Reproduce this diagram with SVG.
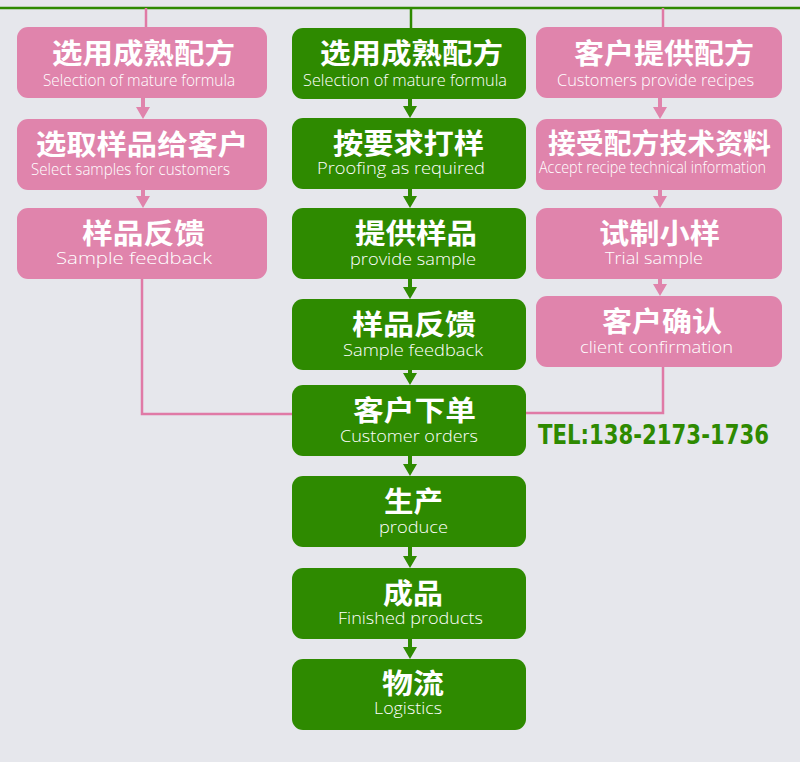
<svg xmlns="http://www.w3.org/2000/svg" xmlns:xlink="http://www.w3.org/1999/xlink" width="800" height="762" viewBox="0 0 800 762">
<style>
.pk{fill:#e084ac}
.gr{fill:#2e8a00}
.lp{stroke:#e07aa6;stroke-width:2.5;fill:none}
.lg{stroke:#2e8a00;stroke-width:2.5;fill:none}
.zh{font-family:"Noto Sans CJK SC","Noto Sans",sans-serif;font-weight:700;font-size:28px;fill:#fff}
.en{font-family:"Open Sans","Noto Sans",sans-serif;font-weight:300;font-size:17px;fill:#fff}
.tel{font-family:"DejaVu Sans",Verdana,sans-serif;font-weight:700;font-size:26px;fill:#2e8a00}
</style>
<defs>
<path id="arr" d="M-2,-24 H2 V-12 H7 L0,0 L-7,-12 H-2 Z"/>
</defs>
<rect width="800" height="762" fill="#e6e7ec"/>
<g id="connectors">
<line class="lg" x1="0" y1="8" x2="800" y2="8"/>
<line class="lp" x1="146" y1="8" x2="146" y2="30"/>
<line class="lg" x1="411" y1="8" x2="411" y2="30"/>
<line class="lp" x1="663" y1="8" x2="663" y2="30"/>
<polyline class="lp" points="142,270 142,414 294,414"/>
<polyline class="lp" points="663,360 663,413 524,413"/>
<use xlink:href="#arr" href="#arr" class="pk" x="143" y="119"/>
<use xlink:href="#arr" href="#arr" class="pk" x="143" y="208"/>
<use xlink:href="#arr" href="#arr" class="gr" x="410" y="118"/>
<use xlink:href="#arr" href="#arr" class="gr" x="410" y="208"/>
<use xlink:href="#arr" href="#arr" class="gr" x="410" y="299"/>
<use xlink:href="#arr" href="#arr" class="gr" x="410" y="385"/>
<use xlink:href="#arr" href="#arr" class="gr" x="410" y="476"/>
<use xlink:href="#arr" href="#arr" class="gr" x="410" y="568"/>
<use xlink:href="#arr" href="#arr" class="gr" x="410" y="659"/>
<use xlink:href="#arr" href="#arr" class="pk" x="660" y="119"/>
<use xlink:href="#arr" href="#arr" class="pk" x="660" y="208"/>
<use xlink:href="#arr" href="#arr" class="pk" x="660" y="296"/>
</g>
<g id="L1"><rect class="pk" x="17" y="27" width="250" height="71" rx="11"/><text class="zh" x="52" y="64" textLength="183" lengthAdjust="spacingAndGlyphs">选用成熟配方</text><text class="en" x="43" y="86" textLength="192" lengthAdjust="spacingAndGlyphs">Selection of mature formula</text></g>
<g id="L2"><rect class="pk" x="17" y="119" width="250" height="71" rx="11"/><text class="zh" x="36" y="155" textLength="212" lengthAdjust="spacingAndGlyphs">选取样品给客户</text><text class="en" x="31" y="175" textLength="199" lengthAdjust="spacingAndGlyphs">Select samples for customers</text></g>
<g id="L3"><rect class="pk" x="17" y="208" width="250" height="71" rx="11"/><text class="zh" x="82" y="244" textLength="123" lengthAdjust="spacingAndGlyphs">样品反馈</text><text class="en" x="56" y="264" textLength="156" lengthAdjust="spacingAndGlyphs">Sample feedback</text></g>
<g id="M1"><rect class="gr" x="292" y="28" width="234" height="71" rx="11"/><text class="zh" x="320" y="64" textLength="183" lengthAdjust="spacingAndGlyphs">选用成熟配方</text><text class="en" x="303" y="86" textLength="204" lengthAdjust="spacingAndGlyphs">Selection of mature formula</text></g>
<g id="M2"><rect class="gr" x="292" y="118" width="234" height="71" rx="11"/><text class="zh" x="333" y="154" textLength="151" lengthAdjust="spacingAndGlyphs">按要求打样</text><text class="en" x="317" y="174" textLength="168" lengthAdjust="spacingAndGlyphs">Proofing as required</text></g>
<g id="M3"><rect class="gr" x="292" y="208" width="234" height="71" rx="11"/><text class="zh" x="355" y="244" textLength="122" lengthAdjust="spacingAndGlyphs">提供样品</text><text class="en" x="350" y="265" textLength="126" lengthAdjust="spacingAndGlyphs">provide sample</text></g>
<g id="M4"><rect class="gr" x="292" y="299" width="234" height="71" rx="11"/><text class="zh" x="352" y="335" textLength="124" lengthAdjust="spacingAndGlyphs">样品反馈</text><text class="en" x="343" y="356" textLength="140" lengthAdjust="spacingAndGlyphs">Sample feedback</text></g>
<g id="M5"><rect class="gr" x="292" y="385" width="234" height="71" rx="11"/><text class="zh" x="353" y="421" textLength="123" lengthAdjust="spacingAndGlyphs">客户下单</text><text class="en" x="340" y="442" textLength="138" lengthAdjust="spacingAndGlyphs">Customer orders</text></g>
<g id="M6"><rect class="gr" x="292" y="476" width="234" height="71" rx="11"/><text class="zh" x="384" y="512" textLength="59" lengthAdjust="spacingAndGlyphs">生产</text><text class="en" x="379" y="533" textLength="69" lengthAdjust="spacingAndGlyphs">produce</text></g>
<g id="M7"><rect class="gr" x="292" y="568" width="234" height="71" rx="11"/><text class="zh" x="383" y="604" textLength="60" lengthAdjust="spacingAndGlyphs">成品</text><text class="en" x="338" y="624" textLength="145" lengthAdjust="spacingAndGlyphs">Finished products</text></g>
<g id="M8"><rect class="gr" x="292" y="659" width="234" height="71" rx="11"/><text class="zh" x="382" y="694" textLength="62" lengthAdjust="spacingAndGlyphs">物流</text><text class="en" x="374" y="714" textLength="68" lengthAdjust="spacingAndGlyphs">Logistics</text></g>
<g id="R1"><rect class="pk" x="536" y="27" width="246" height="71" rx="11"/><text class="zh" x="574" y="64" textLength="180" lengthAdjust="spacingAndGlyphs">客户提供配方</text><text class="en" x="557" y="86" textLength="197" lengthAdjust="spacingAndGlyphs">Customers provide recipes</text></g>
<g id="R2"><rect class="pk" x="536" y="119" width="246" height="71" rx="11"/><text class="zh" x="548" y="154" textLength="223" lengthAdjust="spacingAndGlyphs">接受配方技术资料</text><text class="en" x="539" y="173" textLength="227" lengthAdjust="spacingAndGlyphs">Accept recipe technical information</text></g>
<g id="R3"><rect class="pk" x="536" y="208" width="246" height="71" rx="11"/><text class="zh" x="599" y="244" textLength="121" lengthAdjust="spacingAndGlyphs">试制小样</text><text class="en" x="605" y="264" textLength="98" lengthAdjust="spacingAndGlyphs">Trial sample</text></g>
<g id="R4"><rect class="pk" x="536" y="296" width="246" height="71" rx="11"/><text class="zh" x="602" y="332" textLength="120" lengthAdjust="spacingAndGlyphs">客户确认</text><text class="en" x="580" y="353" textLength="153" lengthAdjust="spacingAndGlyphs">client confirmation</text></g>
<g id="tel"><text class="tel" x="538" y="444" textLength="231" lengthAdjust="spacingAndGlyphs">TEL:138-2173-1736</text></g>
</svg>
